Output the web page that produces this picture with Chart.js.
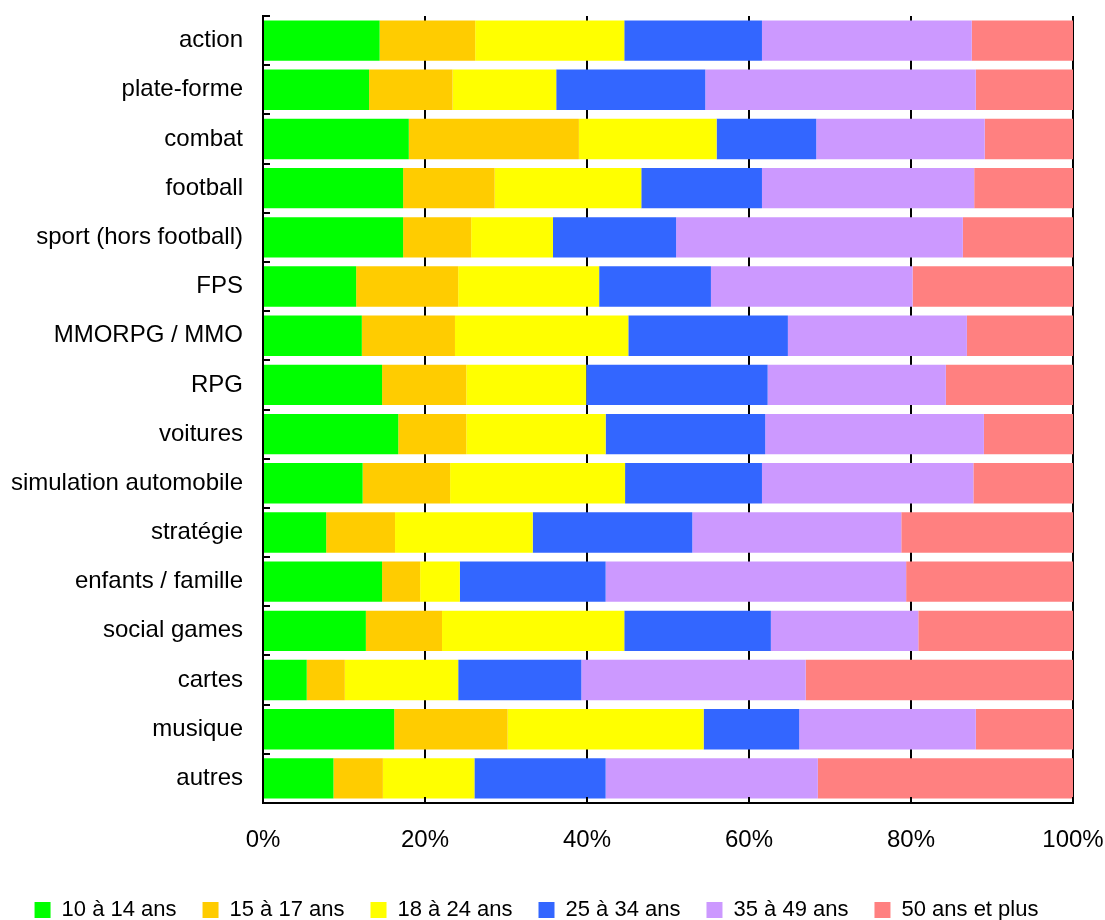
<!DOCTYPE html>
<html lang="fr">
<head>
<meta charset="utf-8">
<title>Genres de jeux par tranche d'âge</title>
<script src="https://cdn.jsdelivr.net/npm/chart.js@4.4.1/dist/chart.umd.min.js"></script>
<style>
  html, body { margin: 0; padding: 0; background: #fff; }
  #wrap { width: 1105px; height: 920px; }
</style>
</head>
<body>
<div id="wrap"><canvas id="chart"></canvas></div>
<script>
// ======= Données =======
const genres = [
  "action", "plate-forme", "combat", "football", "sport (hors football)",
  "FPS", "MMORPG / MMO", "RPG", "voitures", "simulation automobile",
  "stratégie", "enfants / famille", "social games", "cartes", "musique", "autres"
];

const tranches = ["10 à 14 ans", "15 à 17 ans", "18 à 24 ans", "25 à 34 ans", "35 à 49 ans", "50 ans et plus"];

// parts en % par genre (même ordre que genres)
const ans10a14 = [14.4, 13.1, 18.0, 17.3, 17.3, 11.5, 12.2, 14.7, 16.7, 12.3, 7.8, 14.7, 12.7, 5.4, 16.2, 8.7];
const ans15a17 = [11.8, 10.3, 21.0, 11.3, 8.4, 12.6, 11.5, 10.4, 8.4, 10.8, 8.5, 4.7, 9.4, 4.7, 14.0, 6.1];
const ans18a24 = [18.4, 12.8, 17.0, 18.1, 10.1, 17.4, 21.4, 14.8, 17.2, 21.6, 17.0, 4.9, 22.5, 14.0, 24.2, 11.3];
const ans25a34 = [17.0, 18.4, 12.3, 14.9, 15.2, 13.8, 19.7, 22.4, 19.7, 16.9, 19.7, 18.0, 18.1, 15.2, 11.8, 16.2];
const ans35a49 = [25.9, 33.4, 20.8, 26.2, 35.4, 24.9, 22.1, 22.0, 27.0, 26.1, 25.8, 37.1, 18.2, 27.7, 21.8, 26.2];
const ans50plus = [12.5, 12.0, 10.9, 12.2, 13.6, 19.8, 13.1, 15.7, 11.0, 12.3, 21.2, 20.6, 19.1, 33.0, 12.0, 31.5];

const xTicks = [0, 20, 40, 60, 80, 100];

const couleurs = ["#00FF00", "#FFCC00", "#FFFF00", "#3366FF", "#CC99FF", "#FF8080"];
const series = [ans10a14, ans15a17, ans18a24, ans25a34, ans35a49, ans50plus];

const FONT = "'Liberation Sans', Arial, sans-serif";

// petites graduations vers l'intérieur, comme dans l'original
const ticksInterieurs = {
  id: "ticksInterieurs",
  afterDatasetsDraw(chart) {
    const { ctx, scales: { x, y }, chartArea } = chart;
    ctx.save();
    ctx.strokeStyle = "#000";
    ctx.lineWidth = 2;
    ctx.beginPath();
    for (let i = 0; i <= genres.length; i++) {
      const py = Math.round(y.getPixelForValue(i - 0.5));
      ctx.moveTo(chartArea.left, py);
      ctx.lineTo(chartArea.left + 7, py);
    }
    xTicks.forEach(v => {
      const px = Math.round(x.getPixelForValue(v));
      ctx.moveTo(px, chartArea.bottom);
      ctx.lineTo(px, chartArea.bottom - 6);
    });
    ctx.stroke();
    ctx.restore();
  }
};

const ctx = document.getElementById("chart").getContext("2d");

new Chart(ctx, {
  type: "bar",
  data: {
    labels: genres,
    datasets: tranches.map((t, i) => ({
      label: t,
      data: series[i],
      backgroundColor: couleurs[i],
      borderWidth: 0,
      barPercentage: 0.82,
      categoryPercentage: 1
    }))
  },
  options: {
    indexAxis: "y",
    responsive: true,
    maintainAspectRatio: false,
    animation: false,
    layout: { padding: { top: 16, right: 32, left: 0, bottom: -11 } },
    scales: {
      x: {
        stacked: true,
        min: 0,
        max: 100,
        afterBuildTicks: scale => { scale.ticks = xTicks.map(v => ({ value: v })); },
        afterFit: scale => {
          scale.height = 70;
          scale.paddingLeft = 0;
          scale.paddingRight = 0;
        },
        grid: { color: "#000", lineWidth: 2, drawTicks: false },
        border: { display: true, color: "#000", width: 2 },
        ticks: {
          padding: 23,
          color: "#000",
          font: { family: FONT, size: 24 },
          callback: v => v + "%"
        }
      },
      y: {
        stacked: true,
        afterFit: scale => {
          scale.width = 263;
          scale.paddingTop = 0;
          scale.paddingBottom = 0;
        },
        grid: { display: false, drawTicks: false },
        border: { display: true, color: "#000", width: 2 },
        ticks: {
          padding: 20,
          color: "#000",
          font: { family: FONT, size: 24 }
        }
      }
    },
    plugins: {
      legend: {
        position: "bottom",
        labels: {
          color: "#000",
          font: { family: FONT, size: 22 },
          boxWidth: 16,
          boxHeight: 16,
          padding: 26
        }
      },
      tooltip: { enabled: false }
    }
  },
  plugins: [ticksInterieurs]
});
</script>
</body>
</html>
